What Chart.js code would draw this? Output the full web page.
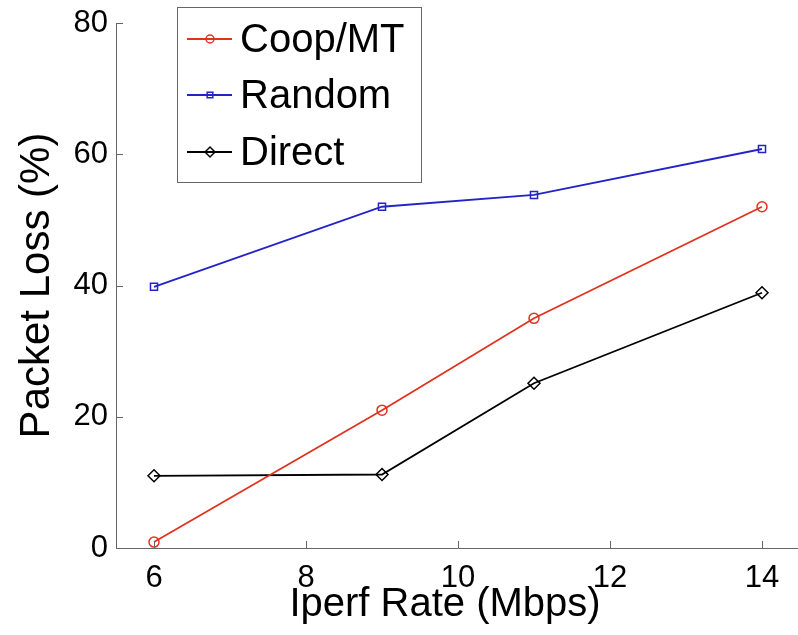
<!DOCTYPE html>
<html>
<head>
<meta charset="utf-8">
<script src="https://cdn.jsdelivr.net/npm/chart.js@4/dist/chart.umd.min.js"></script>
<style>
    html, body { margin: 0; padding: 0; background: #fff; overflow: hidden; }
    canvas { display: block; }
</style>
</head>
<body>
<canvas id="lossChart" width="800" height="635"></canvas>
<script>
// iperf rates (Mbps) and packet loss (%)
const rates = [6, 9, 11, 14];
const coopLoss = [0.9, 21, 35, 52];
const randomLoss = [39.8, 52, 53.8, 60.8];
const directLoss = [11, 11.2, 25.1, 38.9];
const seriesNames = ['Coop/MT', 'Random', 'Direct'];
const xTicks = [6, 8, 10, 12, 14];
const yTicks = [0, 20, 40, 60, 80];
const xTitle = 'Iperf Rate (Mbps)';

const FONT = '"Liberation Sans", Arial, Helvetica, sans-serif';

function toPoints(values) {
    return rates.map((r, i) => ({ x: r, y: values[i] }));
}

// matlab style ticks pointing into the plot, plus the x title
// (matlab centres it a bit left of the axis middle)
const inwardTicks = {
    id: 'inwardTicks',
    afterDraw(chart) {
        const ctx = chart.ctx;
        const xs = chart.scales.x;
        const ys = chart.scales.y;
        const area = chart.chartArea;
        ctx.save();
        ctx.strokeStyle = '#666';
        ctx.lineWidth = 1;
        ctx.beginPath();
        xTicks.forEach(v => {
            const px = Math.round(xs.getPixelForValue(v)) + 0.5;
            ctx.moveTo(px, area.bottom);
            ctx.lineTo(px, area.bottom - 7);
        });
        yTicks.forEach(v => {
            const py = Math.round(ys.getPixelForValue(v)) + 0.5;
            ctx.moveTo(area.left, py);
            ctx.lineTo(area.left + 7, py);
        });
        ctx.stroke();

        ctx.fillStyle = '#000';
        ctx.font = '40px ' + FONT;
        ctx.textAlign = 'center';
        ctx.textBaseline = 'middle';
        ctx.fillText(xTitle, 445, 605);
        ctx.restore();
    }
};

// boxed legend in the upper left of the plot
const boxLegend = {
    id: 'boxLegend',
    afterDraw(chart) {
        const ctx = chart.ctx;
        const box = { x: 177.5, y: 7.5, w: 244, h: 175 };
        const rows = [39, 95, 152];
        ctx.save();
        ctx.fillStyle = '#fff';
        ctx.fillRect(box.x, box.y, box.w, box.h);
        ctx.strokeStyle = '#666';
        ctx.lineWidth = 1;
        ctx.strokeRect(box.x, box.y, box.w, box.h);

        chart.data.datasets.forEach((ds, i) => {
            const y = rows[i];
            ctx.strokeStyle = ds.borderColor;
            ctx.lineWidth = ds.borderWidth;
            ctx.beginPath();
            ctx.moveTo(187, y);
            ctx.lineTo(232, y);
            ctx.stroke();
            ctx.fillStyle = 'rgba(0,0,0,0)';
            ctx.lineWidth = ds.pointBorderWidth;
            Chart.helpers.drawPoint(ctx, {
                pointStyle: ds.pointStyle,
                radius: ds.pointRadius - 1,
                borderWidth: ds.pointBorderWidth,
                rotation: 0
            }, 210, y);
            ctx.fillStyle = '#000';
            ctx.font = '40px ' + FONT;
            ctx.textBaseline = 'middle';
            ctx.textAlign = 'left';
            ctx.fillText(ds.label, 240, y + 2);
        });
        ctx.restore();
    }
};

function makeSet(label, values, color, style, radius) {
    return {
        label: label,
        data: toPoints(values),
        borderColor: color,
        backgroundColor: color,
        borderWidth: 1.8,
        pointStyle: style,
        pointRadius: radius,
        pointBorderColor: color,
        pointBackgroundColor: 'rgba(0,0,0,0)',
        pointBorderWidth: 1.5,
        tension: 0
    };
}

const ctx = document.getElementById('lossChart').getContext('2d');

new Chart(ctx, {
    type: 'line',
    data: {
        datasets: [
            makeSet(seriesNames[0], coopLoss, '#df3320', 'circle', 5),
            makeSet(seriesNames[1], randomLoss, '#2323c8', 'rect', 5),
            makeSet(seriesNames[2], directLoss, '#000000', 'rectRot', 6)
        ]
    },
    options: {
        responsive: false,
        animation: false,
        devicePixelRatio: 1,
        layout: {
            autoPadding: false,
            padding: { top: 23, right: 0, bottom: 0, left: 0 }
        },
        plugins: {
            legend: { display: false },
            tooltip: { enabled: false }
        },
        scales: {
            x: {
                type: 'linear',
                min: 5.5,
                max: 14.5,
                afterFit: function (scale) {
                    scale.height = 87;
                    scale.paddingLeft = 0;
                    scale.paddingRight = 0;
                },
                afterBuildTicks: function (scale) {
                    scale.ticks = xTicks.map(v => ({ value: v }));
                },
                grid: { drawOnChartArea: false, drawTicks: false },
                border: { display: true, color: '#666', width: 1 },
                ticks: {
                    color: '#000',
                    padding: 12,
                    maxRotation: 0,
                    font: { family: FONT, size: 31 }
                },
                title: { display: false }
            },
            y: {
                min: 0,
                max: 80,
                afterFit: function (scale) {
                    scale.width = 116;
                    scale.paddingTop = 0;
                    scale.paddingBottom = 0;
                },
                afterBuildTicks: function (scale) {
                    scale.ticks = yTicks.map(v => ({ value: v }));
                },
                grid: { drawOnChartArea: false, drawTicks: false },
                border: { display: true, color: '#666', width: 1 },
                ticks: {
                    color: '#000',
                    padding: 8,
                    font: { family: FONT, size: 31 }
                },
                title: {
                    display: true,
                    text: 'Packet Loss (%)',
                    color: '#000',
                    padding: { top: 12, bottom: 0 },
                    font: { family: FONT, size: 42 }
                }
            }
        }
    },
    plugins: [inwardTicks, boxLegend]
});
</script>
</body>
</html>
